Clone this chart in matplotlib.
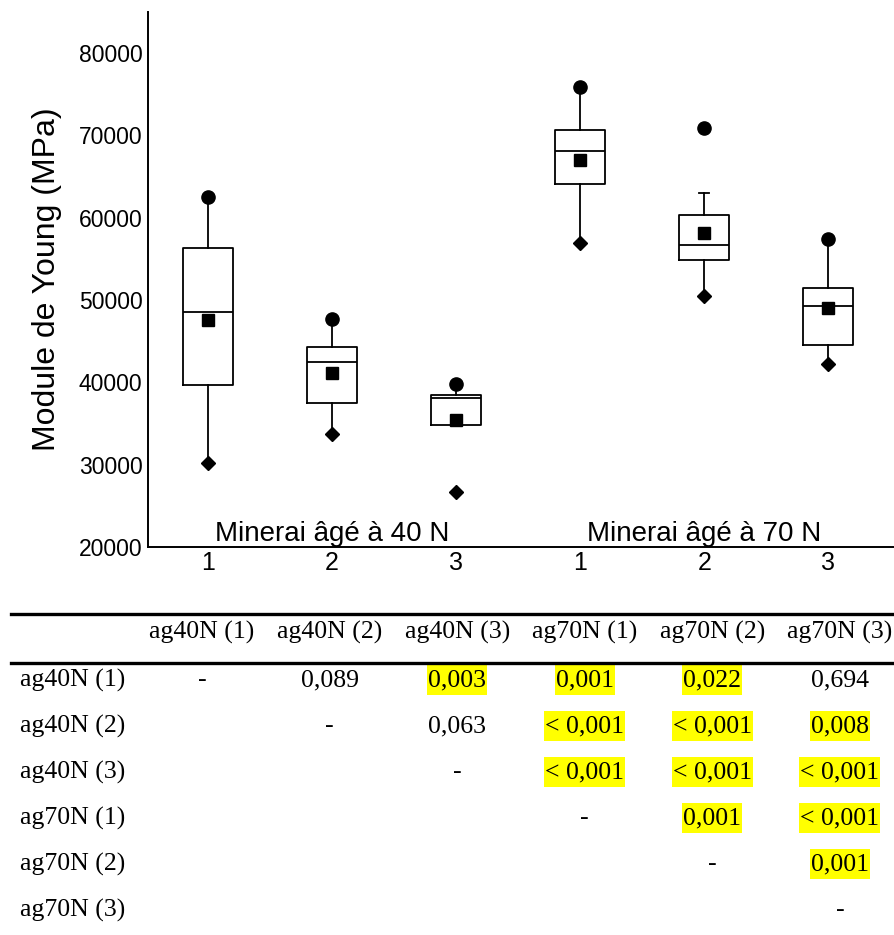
import numpy as np
import matplotlib
matplotlib.use('Agg')
import matplotlib.pyplot as plt
from matplotlib.patches import Rectangle

# box plot data (MPa)
positions = [1, 2, 3, 4, 5, 6]
tick_labels = ['1', '2', '3', '1', '2', '3']
maxima  = [62530, 47700, 39770, 75860, 70950, 57420]
whis_hi = [62530, 47700, 39770, 75860, 63010, 57420]
q3      = [56370, 44340, 38470, 70710, 60340, 51510]
medians = [48590, 42440, 38070, 68150, 56660, 49250]
means   = [47580, 41100, 35430, 67020, 58150, 49040]
q1      = [39650, 37500, 34790, 64140, 54870, 44580]
whis_lo = [30240, 33730, 34790, 56940, 50500, 42200]
minima  = [30240, 33730, 26720, 56940, 50500, 42200]
groups = ['Minerai âgé à 40 N', 'Minerai âgé à 70 N']
group_pos = [2, 5]

# comparison table
names = ['ag40N (1)', 'ag40N (2)', 'ag40N (3)', 'ag70N (1)', 'ag70N (2)', 'ag70N (3)']
pvals = [
	['-', '0,089', '0,003', '0,001', '0,022', '0,694'],
	['', '-', '0,063', '< 0,001', '< 0,001', '0,008'],
	['', '', '-', '< 0,001', '< 0,001', '< 0,001'],
	['', '', '', '-', '0,001', '< 0,001'],
	['', '', '', '', '-', '0,001'],
	['', '', '', '', '', '-'],
]
signif = [
	[0, 0, 1, 1, 1, 0],
	[0, 0, 0, 1, 1, 1],
	[0, 0, 0, 1, 1, 1],
	[0, 0, 0, 0, 1, 1],
	[0, 0, 0, 0, 0, 1],
	[0, 0, 0, 0, 0, 0],
]

sans = ['Liberation Sans', 'DejaVu Sans']
serif = ['Liberation Serif', 'DejaVu Serif']

fig = plt.figure(figsize=(8.94, 9.35), dpi=100)
ax = fig.add_axes([148/894, 1-547/935, 1-148/894, 535/935])

stats = []
for i in range(len(positions)):
	stats.append(dict(med=medians[i], q1=q1[i], q3=q3[i], whislo=whis_lo[i],
		whishi=whis_hi[i], mean=means[i], fliers=[]))

lw = 1.3
ax.bxp(stats, positions=positions, widths=0.4, capwidths=0.08,
	showmeans=True, showfliers=False,
	boxprops=dict(color='black', linewidth=lw),
	whiskerprops=dict(color='black', linewidth=lw),
	capprops=dict(color='black', linewidth=lw),
	medianprops=dict(color='black', linewidth=lw),
	meanprops=dict(marker='s', markerfacecolor='black', markeredgecolor='black', markersize=8))
ax.plot(positions, maxima, 'o', color='black', markersize=9.5, zorder=5)
ax.plot(positions, minima, 'D', color='black', markersize=7.3, zorder=5)

for g, xp in zip(groups, group_pos):
	ax.text(xp, 0.011, g, transform=ax.get_xaxis_transform(), ha='center', va='baseline',
		fontsize=20, family=sans)

ax.set_xlim(0.516, 6.53)
ax.set_ylim(20000, 85000)
ax.set_xticks(positions, tick_labels)
ax.set_yticks(np.arange(20000, 80001, 10000))
ax.tick_params(length=0)
ax.tick_params(axis='x', labelsize=18, pad=3)
ax.tick_params(axis='y', labelsize=16.5, pad=4)
for lab in ax.get_xticklabels() + ax.get_yticklabels():
	lab.set_family(sans)
ax.set_ylabel('Module de Young (MPa)', fontsize=23, family=sans)
ax.yaxis.set_label_coords(-0.115, 0.5)
for s in ['top', 'right']:
	ax.spines[s].set_visible(False)
for s in ['left', 'bottom']:
	ax.spines[s].set_linewidth(1.4)

# table axes: x = column index, y = row index
tab = fig.add_axes([0, 0, 1, 335/935])
tab.set_xlim(-202/127.6, (894-202)/127.6)
tab.set_ylim((935-680)/46, (600-680)/46)
tab.axis('off')

tab.plot([-1.5, 5.5], [-1.435, -1.435], color='black', linewidth=2.4, clip_on=False)
tab.plot([-1.5, 5.5], [-0.37, -0.37], color='black', linewidth=2.4, clip_on=False)

fs = 18.5
marked = []
for j, n in enumerate(names):
	tab.text(j, -1.04, n, ha='center', va='center', fontsize=fs, family=serif)
for i, n in enumerate(names):
	tab.text(-1.43, i, n, ha='left', va='center', fontsize=fs, family=serif)
	for j in range(len(names)):
		v = pvals[i][j]
		if not v:
			continue
		t = tab.text(j, i, v, ha='center', va='center', fontsize=fs, family=serif, zorder=3)
		if signif[i][j]:
			marked.append((t, i))

# yellow highlight behind significant p-values, sized to the text
fig.canvas.draw()
inv = tab.transData.inverted()
for t, i in marked:
	bb = t.get_window_extent()
	x0 = inv.transform((bb.x0 - 1, 0))[0]
	x1 = inv.transform((bb.x1 + 1, 0))[0]
	tab.add_patch(Rectangle((x0, i - 0.33), x1 - x0, 0.66, facecolor='#ffff00',
		edgecolor='none', zorder=1))

fig.savefig('out.png', dpi=100)
